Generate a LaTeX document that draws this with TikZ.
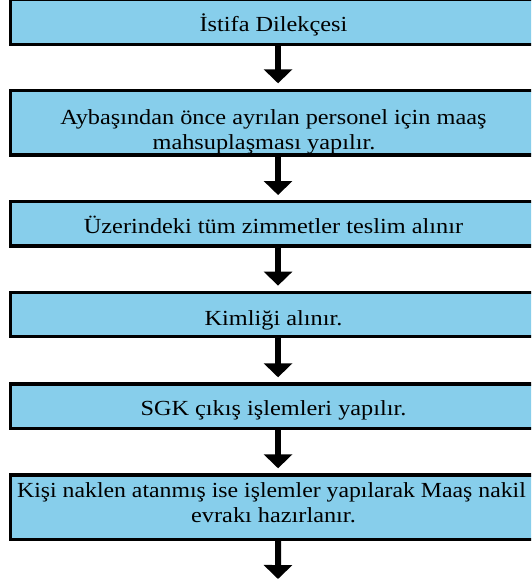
\documentclass[tikz,border=0pt]{standalone}
\usepackage{fontspec}
\setmainfont{Liberation Serif}[FakeStretch=1.13]
\newfontfamily\narrowserif{Liberation Serif}[FakeStretch=1.105]
\usetikzlibrary{arrows.meta}
\definecolor{boxblue}{RGB}{135,206,235}
\begin{document}
\begin{tikzpicture}[x=1pt,y=-1pt,
  stepbox/.style={draw=black, fill=boxblue, line width=3.3pt, rectangle,
    minimum width=525.9pt, inner sep=0pt, outer sep=0pt},
  lbl/.style={anchor=base, inner sep=0pt, outer sep=0pt,
    font=\fontsize{21.5}{26}\selectfont},
  flow/.style={line width=6pt, -{Triangle[width=28pt,length=14pt]}}]
\useasboundingbox (0,0) rectangle (531,587);
\clip (0,0) rectangle (531,587);
% boxes
\node[stepbox, minimum height=44.8pt] (b1) at (273.55,21.9) {};
\node[stepbox, minimum height=64.3pt] (b2) at (273.55,122.85) {};
\node[stepbox, minimum height=44.3pt] (b3) at (273.55,223.85) {};
\node[stepbox, minimum height=44.4pt] (b4) at (273.55,314.5) {};
\node[stepbox, minimum height=44.7pt] (b5) at (273.55,406.35) {};
\node[stepbox, minimum height=64.5pt] (b6) at (273.55,507.25) {};
% texts
\node[lbl] (t1) at (273.5,31) {İstifa Dilekçesi};
\node[lbl] (t2a) at (273.5,124.5) {Aybaşından önce ayrılan personel için maaş};
\node[lbl] (t2b) at (264,149) {mahsuplaşması yapılır.};
\node[lbl] (t3) at (273.5,233) {Üzerindeki tüm zimmetler teslim alınır};
\node[lbl] (t4) at (273.5,325) {Kimliği alınır.};
\node[lbl] (t5) at (273.5,415.5) {SGK çıkış işlemleri yapılır.};
\node[lbl, font=\narrowserif\fontsize{21.5}{26}\selectfont] (t6a) at (271.5,497.5) {Kişi naklen atanmış ise işlemler yapılarak Maaş nakil};
\node[lbl] (t6b) at (273.5,522.5) {evrakı hazırlanır.};
% connectors
\coordinate (end) at (278,579);
\draw[flow, shorten >=7.4pt] ([xshift=4.5pt]b1.south) -- ([xshift=4.5pt]b2.north);
\draw[flow, shorten >=6.7pt] ([xshift=4.5pt]b2.south) -- ([xshift=4.5pt]b3.north);
\draw[flow, shorten >=6.7pt] ([xshift=4.5pt]b3.south) -- ([xshift=4.5pt]b4.north);
\draw[flow, shorten >=6.7pt] ([xshift=4.5pt]b4.south) -- ([xshift=4.5pt]b5.north);
\draw[flow, shorten >=6.7pt] ([xshift=4.5pt]b5.south) -- ([xshift=4.5pt]b6.north);
\draw[flow] ([xshift=4.5pt]b6.south) -- (end);
\end{tikzpicture}
\end{document}
